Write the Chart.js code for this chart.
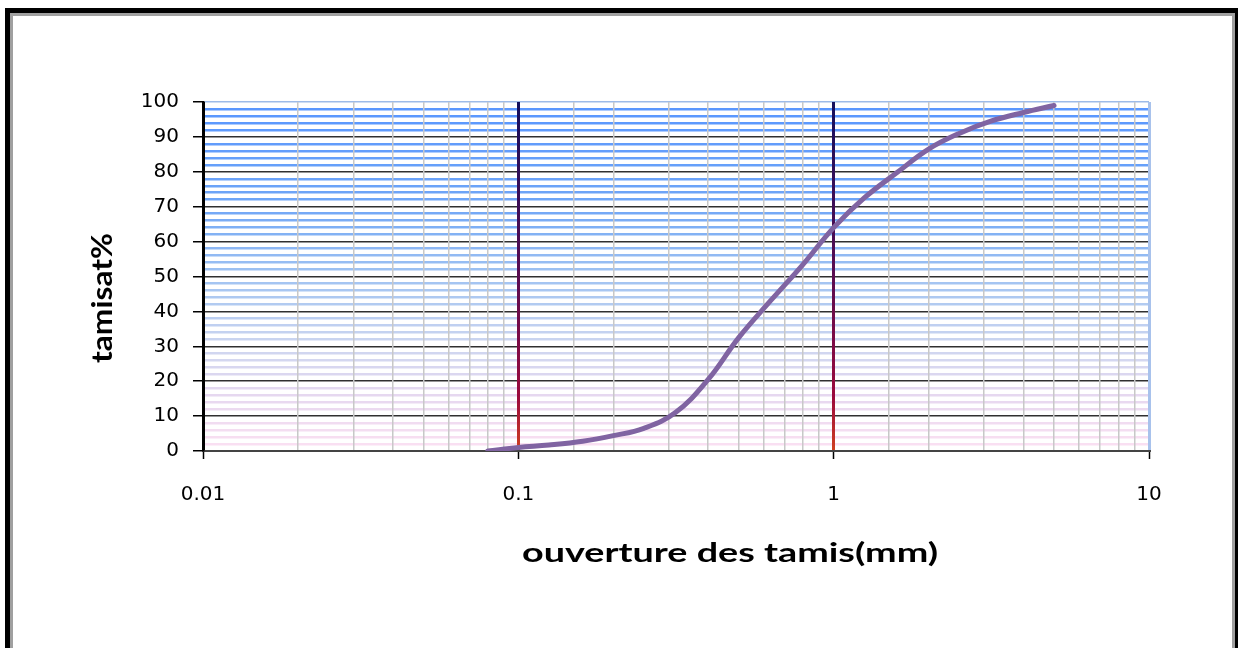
<!DOCTYPE html>
<html>
<head>
<meta charset="utf-8">
<script src="https://cdn.jsdelivr.net/npm/chart.js@4"></script>
<style>
  body { margin: 0; background: #fff; }
  #wrap { position: relative; width: 1238px; height: 648px; overflow: hidden; }
  #frame {
    position: absolute; left: 5px; top: 8px; width: 1235px; height: 700px;
    box-sizing: border-box; border: 5px solid #000;
    box-shadow: inset 0 0 0 3px #a0a0a0; pointer-events: none;
  }
</style>
</head>
<body>
<div id="wrap">
  <canvas id="chart"></canvas>
  <div id="frame"></div>
</div>
<script>
// sieve opening (mm) and passing percentage
const sieves = [0.08, 0.1, 0.125, 0.16, 0.2, 0.25, 0.315, 0.4, 0.5, 0.63, 0.8, 1, 1.25, 1.6, 2, 2.5, 3.15, 4, 5];
const passing = [0, 1, 1.7, 2.8, 4.4, 6.5, 11, 20.5, 32.5, 43, 53.5, 64, 72.5, 80, 86.5, 91, 94.5, 97, 99];
const xTickLabels = ['0.01', '0.1', '1', '10'];
const xTitle = 'ouverture des tamis(mm)';
const yTitle = 'tamisat%';

const points = sieves.map((s, i) => ({ x: s, y: passing[i] }));

function isDecade(v) {
    const l = Math.log10(v);
    return Math.abs(l - Math.round(l)) < 1e-6;
}

// colour of the thin horizontal lines, blue at the top fading to pink
const stripeStops = [
    [0, [252, 224, 242]],
    [15, [232, 216, 240]],
    [30, [205, 214, 240]],
    [50, [160, 195, 242]],
    [70, [112, 166, 246]],
    [100, [88, 150, 255]]
];
function stripeColor(v) {
    for (let i = 1; i < stripeStops.length; i++) {
        const [v0, c0] = stripeStops[i - 1];
        const [v1, c1] = stripeStops[i];
        if (v <= v1) {
            const t = (v - v0) / (v1 - v0);
            const c = c0.map((c, k) => Math.round(c + (c1[k] - c) * t));
            return `rgb(${c[0]},${c[1]},${c[2]})`;
        }
    }
    return 'rgb(88,150,255)';
}

function majorGradient(chart) {
    const area = chart.chartArea;
    if (!area) return '#2a1060';
    const g = chart.ctx.createLinearGradient(0, area.top, 0, area.bottom);
    g.addColorStop(0, '#14105e');
    g.addColorStop(0.5, '#5a0c50');
    g.addColorStop(0.85, '#9c0a3c');
    g.addColorStop(1, '#d04020');
    return g;
}

// text stretched to the width it has in the picture
function stretchedText(ctx, text, cx, cy, width, angle) {
    ctx.save();
    ctx.translate(cx, cy);
    ctx.rotate(angle);
    const w = ctx.measureText(text).width;
    ctx.scale(width / w, 1);
    ctx.fillText(text, 0, 0);
    ctx.restore();
}

const axisTitles = {
    id: 'axisTitles',
    afterDraw(chart) {
        const ctx = chart.ctx;
        ctx.save();
        ctx.fillStyle = '#000';
        ctx.textAlign = 'center';
        ctx.textBaseline = 'middle';
        ctx.font = 'bold 27px Lato';
        stretchedText(ctx, xTitle, 730, 553, 416, 0);
        ctx.font = 'bold 28px Lato';
        stretchedText(ctx, yTitle, 103, 298, 130, -Math.PI / 2);
        ctx.restore();
    }
};

const tickFont = { family: 'DejaVu Sans', size: 20 };

new Chart(document.getElementById('chart'), {
    type: 'line',
    data: {
        datasets: [{
            data: points,
            borderColor: '#8064a2',
            borderWidth: 5,
            borderCapStyle: 'round',
            pointRadius: 0,
            tension: 0.4,
            fill: false
        }]
    },
    options: {
        responsive: true,
        maintainAspectRatio: false,
        animation: false,
        layout: { padding: { left: 0, right: 89, top: 102, bottom: 0 } },
        plugins: { legend: { display: false }, tooltip: { enabled: false } },
        scales: {
            x: {
                type: 'logarithmic',
                position: 'bottom',
                min: 0.01,
                max: 10,
                afterFit(scale) { scale.height = 197; },
                ticks: {
                    autoSkip: false,
                    maxRotation: 0,
                    padding: 24,
                    color: '#000',
                    font: tickFont,
                    callback(v) {
                        if (!isDecade(v)) return '';
                        return xTickLabels[Math.round(Math.log10(v)) + 2];
                    }
                },
                grid: {
                    z: -1,
                    tickLength: 8,
                    color(c) {
                        const v = c.tick && c.tick.value;
                        if (v === undefined) return '#c8c8c8';
                        if (isDecade(v)) {
                            if (Math.abs(v - 10) < 1e-6) return '#a8c2ec';
                            if (Math.abs(v - 0.01) < 1e-6) return '#000';
                            return majorGradient(c.chart);
                        }
                        return '#c8c8c8';
                    },
                    lineWidth(c) {
                        const v = c.tick && c.tick.value;
                        return v !== undefined && isDecade(v) ? 3 : 1.5;
                    },
                    tickColor(c) {
                        const v = c.tick && c.tick.value;
                        return v !== undefined && isDecade(v) ? '#000' : 'rgba(0,0,0,0)';
                    },
                    tickWidth: 1.5
                },
                border: { display: true, color: '#444', width: 2 }
            },
            y: {
                min: 0,
                max: 100,
                afterFit(scale) { scale.width = 203; },
                ticks: {
                    stepSize: 2,
                    maxTicksLimit: 100,
                    autoSkip: false,
                    padding: 14,
                    color: '#000',
                    font: tickFont,
                    callback(v) { return v % 10 === 0 ? String(v) : ''; }
                },
                grid: {
                    z: -2,
                    tickLength: 10,
                    color(c) {
                        const v = c.tick.value;
                        if (v === 100) return '#9dbbe8';
                        if (v % 10 === 0) return '#303030';
                        return stripeColor(v);
                    },
                    lineWidth(c) { return c.tick.value % 10 === 0 ? 1.5 : 2.5; },
                    tickColor(c) { return c.tick.value % 10 === 0 ? '#000' : 'rgba(0,0,0,0)'; },
                    tickWidth: 1.5
                },
                border: { display: true, color: '#000', width: 2.5 }
            }
        }
    },
    plugins: [axisTitles]
});
</script>
</body>
</html>
